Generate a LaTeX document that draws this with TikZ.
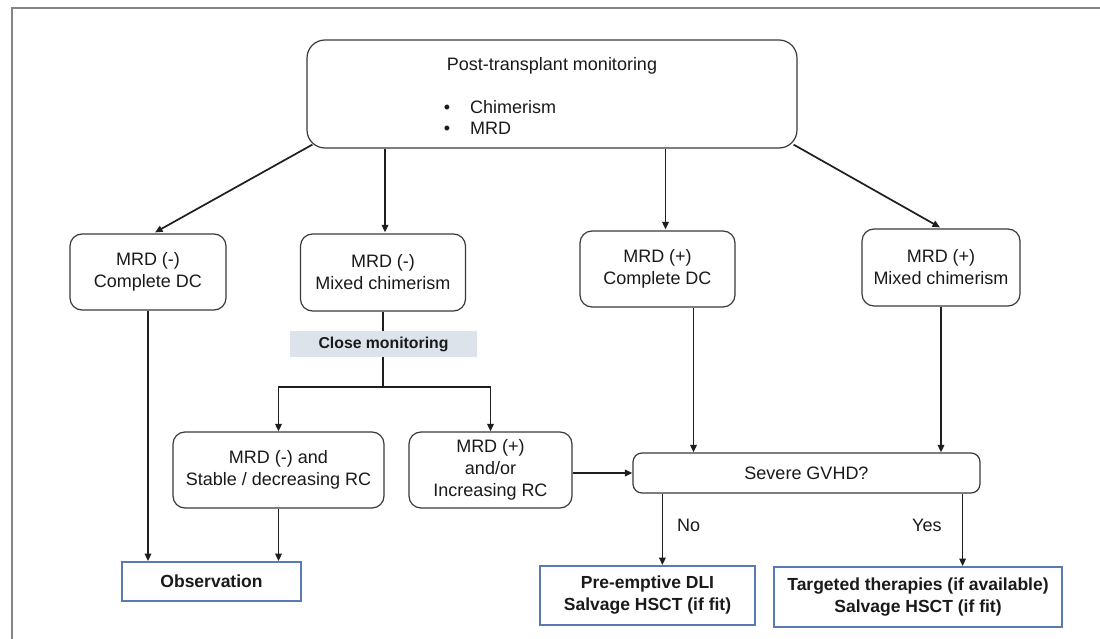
\documentclass[tikz,border=0pt]{standalone}
\usepackage{fontspec}
\setmainfont{Liberation Sans}
\usetikzlibrary{arrows.meta,calc}
\definecolor{txt}{HTML}{1A1A1A}
\definecolor{boxline}{HTML}{3A3A3A}
\definecolor{wire}{HTML}{1E1E1E}
\definecolor{outcome}{HTML}{5A7AB5}
\definecolor{bandfill}{HTML}{DCE3EA}
\definecolor{framegrey}{HTML}{858585}
\begin{document}
\begin{tikzpicture}[x=1pt,y=-1pt,
  every node/.style={text=txt, inner sep=0pt, align=center,
    font=\fontsize{18}{22}\selectfont},
  rbox/.style={draw=boxline, line width=1.2pt, rounded corners=12pt},
  outbox/.style={draw=outcome, line width=1.8pt,
    font=\fontsize{17.5}{22}\selectfont\bfseries},
  band/.style={fill=bandfill, font=\fontsize{15.8}{18}\selectfont\bfseries},
  wireline/.style={draw=wire, line width=1.7pt},
  arrowline/.style={wireline, -{Triangle[length=7.5pt,width=6.5pt]}}]

% page and outer frame
\useasboundingbox (0,0) rectangle (1100,639);
\fill[white] (0,0) rectangle (1100,639);
\draw[framegrey, line width=2.4pt] (1100,8) -- (12.2,8) -- (12.2,639);

% monitoring box
\node[rbox, rounded corners=18pt, minimum width=490pt, minimum height=108pt]
  (top) at (552,94) {};
\node[anchor=base] (title) at (552,71) {Post-transplant monitoring};
\node[anchor=base] (dot1) at (447,113.5) {•};
\node[anchor=base west] (chim) at (470,113.5) {Chimerism};
\node[anchor=base] (dot2) at (447,135) {•};
\node[anchor=base west] (mrd) at (470,135) {MRD};

% first-level states
\node[rbox, minimum width=156pt, minimum height=76pt] (b1) at (148,272)
  {MRD (-)\\Complete DC};
\node[rbox, minimum width=165pt, minimum height=77pt] (b2) at (383,272.5)
  {MRD (-)\\Mixed chimerism};
\node[rbox, minimum width=155pt, minimum height=76pt] (b3) at (657.5,269)
  {MRD (+)\\Complete DC};
\node[rbox, minimum width=158pt, minimum height=77pt] (b4) at (941,267.5)
  {MRD (+)\\Mixed chimerism};

% close monitoring band
\node[band, minimum width=187pt, minimum height=26pt] (close) at (383.5,344)
  {Close monitoring};

% second-level states
\node[rbox, minimum width=211pt, minimum height=76pt] (s1) at (278.5,470)
  {MRD (-) and\\Stable / decreasing RC};
\node[rbox, minimum width=163pt, minimum height=76pt] (s2) at (490.5,470)
  {MRD (+)\\and/or\\Increasing RC};

% GVHD decision
\node[rbox, rounded corners=9pt, minimum width=347pt, minimum height=40pt]
  (sev) at (806.5,473) {Severe GVHD?};

% outcomes
\node[outbox, minimum width=179pt, minimum height=39pt] (obs) at (211.5,581.5)
  {Observation};
\node[outbox, minimum width=215pt, minimum height=59pt] (pre) at (647.5,595.5)
  {Pre-emptive DLI\\Salvage HSCT (if fit)};
\node[outbox, minimum width=288pt, minimum height=60pt] (tgt) at (918,597)
  {Targeted therapies (if available)\\Salvage HSCT (if fit)};

% branch labels
\node[anchor=base west] (no) at (677,531) {No};
\node[anchor=base west] (yes) at (912,531) {Yes};

% connectors from the monitoring box
\draw[arrowline] ($(top.south west)+(6,-4)$) -- ($(b1.north)+(7,-1)$);
\draw[arrowline] ($(b2.north |- top.south)+(2,0)$) -- ($(b2.north)+(2,-1)$);
\draw[arrowline] ($(b3.north |- top.south)+(8,0)$) -- ($(b3.north)+(8,-1)$);
\draw[arrowline] ($(top.south east)+(-4,-4)$) -- ($(b4.north)+(-1,-1)$);

% left column to observation
\draw[arrowline] (b1.south) -- (b1.south |- obs.north);

% mixed chimerism through close monitoring
\draw[wireline] (b2.south) -- (b2.south |- close.north);
\draw[wireline] (b2.south |- close.south) -- ++(0,30) coordinate (split);
\draw[arrowline] (split) -| (s1.north);
\draw[arrowline] (split) -| (s2.north);
\draw[arrowline] (s1.south) -- (s1.south |- obs.north);

% into the GVHD decision
\draw[arrowline] (s2.east |- sev.west) -- (sev.west);
\draw[arrowline] ($(b3.south)+(36,0)$) -- ($(b3.south |- sev.north)+(36,0)$);
\draw[arrowline] (b4.south) -- (b4.south |- sev.north);

% out of the GVHD decision
\draw[arrowline] ($(sev.south west)+(30,0)$) -- ($(sev.south west |- pre.north)+(30,0)$);
\draw[arrowline] ($(sev.south east)+(-18,0)$) -- ($(sev.south east |- tgt.north)+(-18,0)$);
\end{tikzpicture}
\end{document}
